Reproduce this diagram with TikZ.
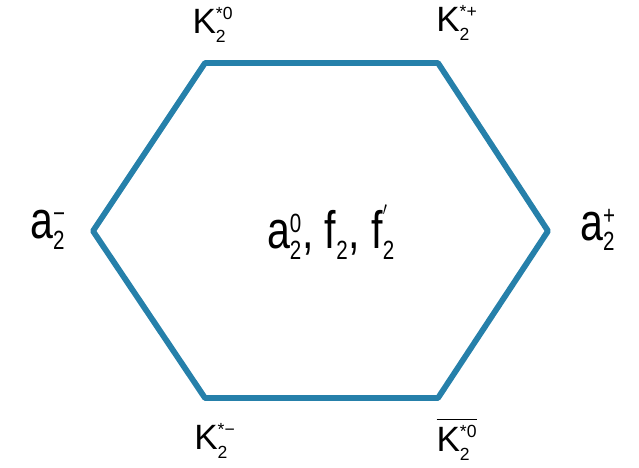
\documentclass[tikz,border=0pt]{standalone}
\usepackage{amsmath}
\usepackage{fontspec}
\setmainfont{Liberation Sans}
\definecolor{nonetblue}{RGB}{38,128,170}
\newcommand{\mes}[3]{\(\text{#1}_{\scriptscriptstyle\text{#2}}^{\scriptscriptstyle\text{#3}}\)}

\begin{document}
\begin{tikzpicture}[x=0.02cm,y=-0.02cm]
    \useasboundingbox (0,0) rectangle (639,467);
    \tikzset{big/.style={font=\fontsize{30}{32}\selectfont,transform shape,xscale=0.78},
             small/.style={font=\fontsize{20}{22}\selectfont}}
    \coordinate (tl) at (205,63);
    \coordinate (tr) at (438,63);
    \coordinate (r) at (548,231);
    \coordinate (br) at (438,398);
    \coordinate (bl) at (205,398);
    \coordinate (l) at (93,231);
    \draw[nonetblue,line width=3.3pt,line join=round] (tl)--(tr)--(r)--(br)--(bl)--(l)--cycle;
    \node[small] (k0) at (213,25) {\mes{K}{2}{*0}};
    \node[small] (kp) at (457,23) {\mes{K}{2}{*+}};
    \node[big] (am) at (48,230) {\mes{a}{2}{−}};
    \node[big] (ap) at (598,230) {\mes{a}{2}{+}};
    \node[big] (mid) at (331,232) {\mes{a}{2}{0}, \mes{f}{2}{}, \mes{f}{2}{$'$}};
    \node[small] (km) at (215,441) {\mes{K}{2}{*−}};
    \node[small] (kb) at (457,439) {\(\overline{\text{K}^{\scriptscriptstyle\text{*0}}_{\scriptscriptstyle\text{2}}}\)};
\end{tikzpicture}
\end{document}
